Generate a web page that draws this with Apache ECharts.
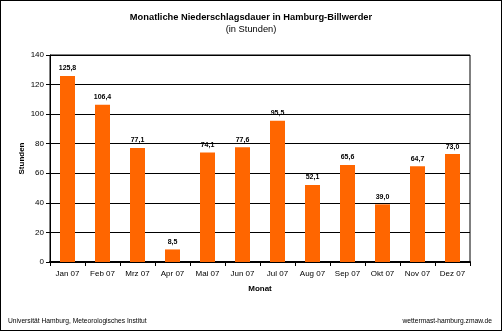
<!DOCTYPE html>
<html>
<head>
<meta charset="utf-8">
<script src="https://cdn.jsdelivr.net/npm/echarts@6/dist/echarts.min.js"></script>
<style>
  html, body { margin: 0; padding: 0; background: #fff; }
  #chart { width: 502px; height: 331px; box-sizing: border-box; border: 1px solid #000; }
</style>
</head>
<body>
<div id="chart"></div>
<script>
// Monthly precipitation duration, Hamburg-Billwerder, 2007 (hours)
const months = ['Jan 07', 'Feb 07', 'Mrz 07', 'Apr 07', 'Mai 07', 'Jun 07',
                'Jul 07', 'Aug 07', 'Sep 07', 'Okt 07', 'Nov 07', 'Dez 07'];
const hours = [125.8, 106.4, 77.1, 8.5, 74.1, 77.6, 95.5, 52.1, 65.6, 39.0, 64.7, 73.0];

const FONT = 'Liberation Sans, Arial, sans-serif';
const chart = echarts.init(document.getElementById('chart'), null, { renderer: 'canvas' });

chart.setOption({
  animation: false,
  backgroundColor: '#fff',
  title: [
    {
      text: 'Monatliche Niederschlagsdauer in Hamburg-Billwerder',
      left: 'center', top: 7,
      textStyle: { fontFamily: FONT, fontSize: 9.3, fontWeight: 'bold', color: '#000' }
    },
    {
      text: '(in Stunden)',
      left: 'center', top: 19,
      textStyle: { fontFamily: FONT, fontSize: 9.3, fontWeight: 'normal', color: '#000' }
    },
    {
      text: 'Universität Hamburg, Meteorologisches Institut',
      left: 2, top: 312,
      textStyle: { fontFamily: FONT, fontSize: 6.7, fontWeight: 'normal', color: '#000' }
    },
    {
      text: 'wettermast-hamburg.zmaw.de',
      right: 4, top: 312,
      textStyle: { fontFamily: FONT, fontSize: 6.7, fontWeight: 'normal', color: '#000' }
    }
  ],
  grid: {
    left: 49, right: 31, top: 54, bottom: 68,
    show: true, borderColor: '#000', borderWidth: 1
  },
  xAxis: {
    type: 'category',
    data: months,
    name: 'Monat',
    nameLocation: 'middle',
    nameGap: 23,
    nameMoveOverlap: false,
    nameTextStyle: { fontFamily: FONT, fontSize: 8, fontWeight: 'bold', color: '#000' },
    axisLine: { lineStyle: { color: '#000', width: 2 } },
    axisTick: { show: true, length: 4, lineStyle: { color: '#000' } },
    axisLabel: { fontFamily: FONT, fontSize: 8, color: '#000', margin: 8 }
  },
  yAxis: {
    type: 'value',
    min: 0, max: 140, interval: 20,
    name: 'Stunden',
    nameLocation: 'middle',
    nameGap: 24,
    nameMoveOverlap: false,
    nameTextStyle: { fontFamily: FONT, fontSize: 8, fontWeight: 'bold', color: '#000' },
    axisLine: { show: true, lineStyle: { color: '#000', width: 1 } },
    axisTick: { show: true, length: 4, lineStyle: { color: '#000' } },
    axisLabel: { fontFamily: FONT, fontSize: 8, color: '#000', margin: 6 },
    splitLine: { show: true, lineStyle: { color: '#000', width: 1 } }
  },
  series: [{
    type: 'bar',
    data: hours,
    barWidth: 15,
    itemStyle: { color: '#ff6600' },
    label: {
      show: true,
      position: 'top',
      distance: 4,
      fontFamily: FONT, fontSize: 7, fontWeight: 'bold', color: '#000',
      formatter: p => p.value.toFixed(1).replace('.', ',')
    }
  }]
});
</script>
</body>
</html>
